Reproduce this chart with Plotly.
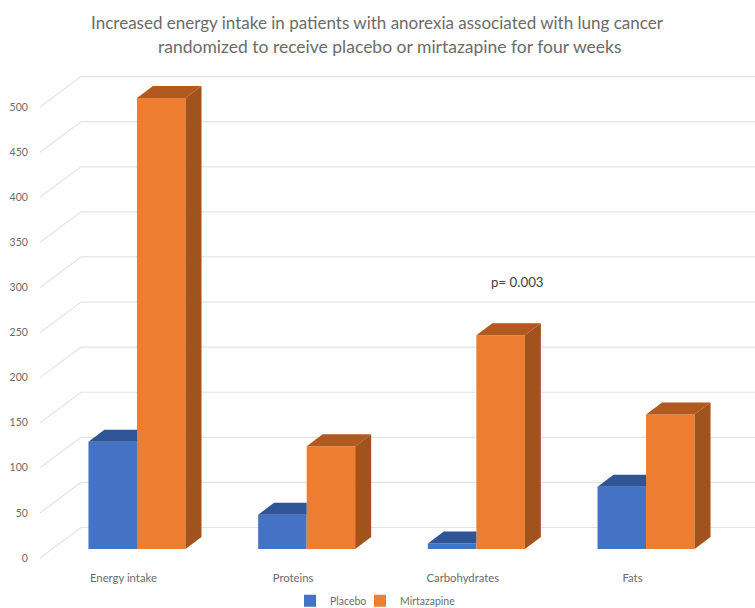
import plotly.graph_objects as go

categories = ["Energy intake", "Proteins", "Carbohydrates", "Fats"]
placebo = [119, 38, 6, 69]
mirtazapine = [500, 114, 237, 149]
y_ticks = [0, 50, 100, 150, 200, 250, 300, 350, 400, 450, 500]
title_lines = ["Increased energy intake in patients with anorexia associated with lung cancer",
               "randomized to receive placebo or mirtazapine for four weeks"]
p_note = "p= 0.003"

W, H = 755, 608
L, R, T, B = 40, 0, 71, 50
X_RANGE = [-0.5716, 3.642]
Y_RANGE = [0, 540]
BAR_W = 0.286
FLOOR = 10            # front plane of the bars, above the axis zero
DX, DY = 0.094, 13.3  # bar depth
BX, BY = 0.2416, 33.8 # wall depth
FONT = "Lato"
GREY = "#6b6b6b"

fig = go.Figure()

# receding gridlines on the base axes
gx, gy = [], []
for v in y_ticks:
    gx += [X_RANGE[0], X_RANGE[0] + BX, X_RANGE[1], None]
    gy += [v, v + BY, v + BY, None]
fig.add_trace(go.Scatter(x=gx, y=gy, mode="lines", line=dict(color="#e4e4e4", width=1.2),
                         showlegend=False, hoverinfo="skip", cliponaxis=False))

xs = list(range(len(categories)))
fig.add_trace(go.Bar(x=xs, y=placebo, base=[FLOOR] * 4, width=BAR_W, offset=-BAR_W, name="Placebo",
                     marker=dict(color="#4472c4", line_width=0), xaxis="x2", yaxis="y2", legend="legend"))
fig.add_trace(go.Bar(x=xs, y=mirtazapine, base=[FLOOR] * 4, width=BAR_W, offset=0, name="Mirtazapine",
                     marker=dict(color="#ed7d31", line_width=0), xaxis="x2", yaxis="y2", legend="legend2"))


def poly(px, py, color):
    fig.add_trace(go.Scatter(x=px, y=py, mode="lines", fill="toself", fillcolor=color, line=dict(width=0),
                             showlegend=False, hoverinfo="skip", xaxis="x2", yaxis="y2"))


for i, (a, b) in enumerate(zip(placebo, mirtazapine)):
    ta, tb = FLOOR + a, FLOOR + b
    # placebo top, cut at the orange front
    poly([i - BAR_W, i - BAR_W + DX, i, i, i - BAR_W], [ta, ta + DY, ta + DY, ta, ta], "#2f5597")
    # mirtazapine top
    poly([i, i + DX, i + BAR_W + DX, i + BAR_W, i], [tb, tb + DY, tb + DY, tb, tb], "#b2591f")
    # mirtazapine side
    poly([i + BAR_W, i + BAR_W + DX, i + BAR_W + DX, i + BAR_W, i + BAR_W],
         [FLOOR, FLOOR + DY, tb + DY, tb, FLOOR], "#a0531c")


def legend_at(left_px):
    return dict(orientation="h", x=(left_px - L) / (W - L - R), xanchor="left", y=-0.058, yanchor="top",
                font=dict(size=10.5, color=GREY), bgcolor="rgba(0,0,0,0)")


fig.update_layout(
    width=W, height=H, margin=dict(l=L, r=R, t=T, b=B, autoexpand=False), autosize=False,
    paper_bgcolor="white", plot_bgcolor="white",
    font=dict(family=FONT, color=GREY),
    title=dict(text=title_lines[0], x=377 / W, xanchor="center", y=1 - 23 / H, yanchor="middle",
               font=dict(size=17, color=GREY, family=FONT)),
    barmode="overlay",
    xaxis=dict(range=X_RANGE, domain=[0, 1], showgrid=False, zeroline=False, showline=False,
               tickmode="array", tickvals=[i - 0.08 for i in xs], ticktext=categories,
               ticks="outside", ticklen=9, tickcolor="rgba(0,0,0,0)", tickfont=dict(size=11.3, color=GREY)),
    yaxis=dict(range=Y_RANGE, showgrid=False, zeroline=False, showline=False,
               tickmode="array", tickvals=y_ticks, ticks="outside", ticklen=9,
               tickcolor="rgba(0,0,0,0)", tickfont=dict(size=10.5, color=GREY)),
    xaxis2=dict(range=X_RANGE, overlaying="x", visible=False),
    yaxis2=dict(range=Y_RANGE, overlaying="y", visible=False),
    legend=legend_at(290),
    legend2=legend_at(360),
    annotations=[
        dict(text=title_lines[1], xref="paper", yref="paper", x=(390 - L) / (W - L - R),
             y=1 + (T - 47) / (H - T - B), xanchor="center", yanchor="middle", showarrow=False,
             font=dict(size=17.5, color=GREY, family=FONT)),
        dict(text=p_note, x=2.24, y=306, xref="x", yref="y", showarrow=False,
             font=dict(size=13.3, color="#404040", family=FONT)),
    ],
)
fig.write_html("out.html", config={"displayModeBar": False}, post_script="document.body.style.margin='0';")
